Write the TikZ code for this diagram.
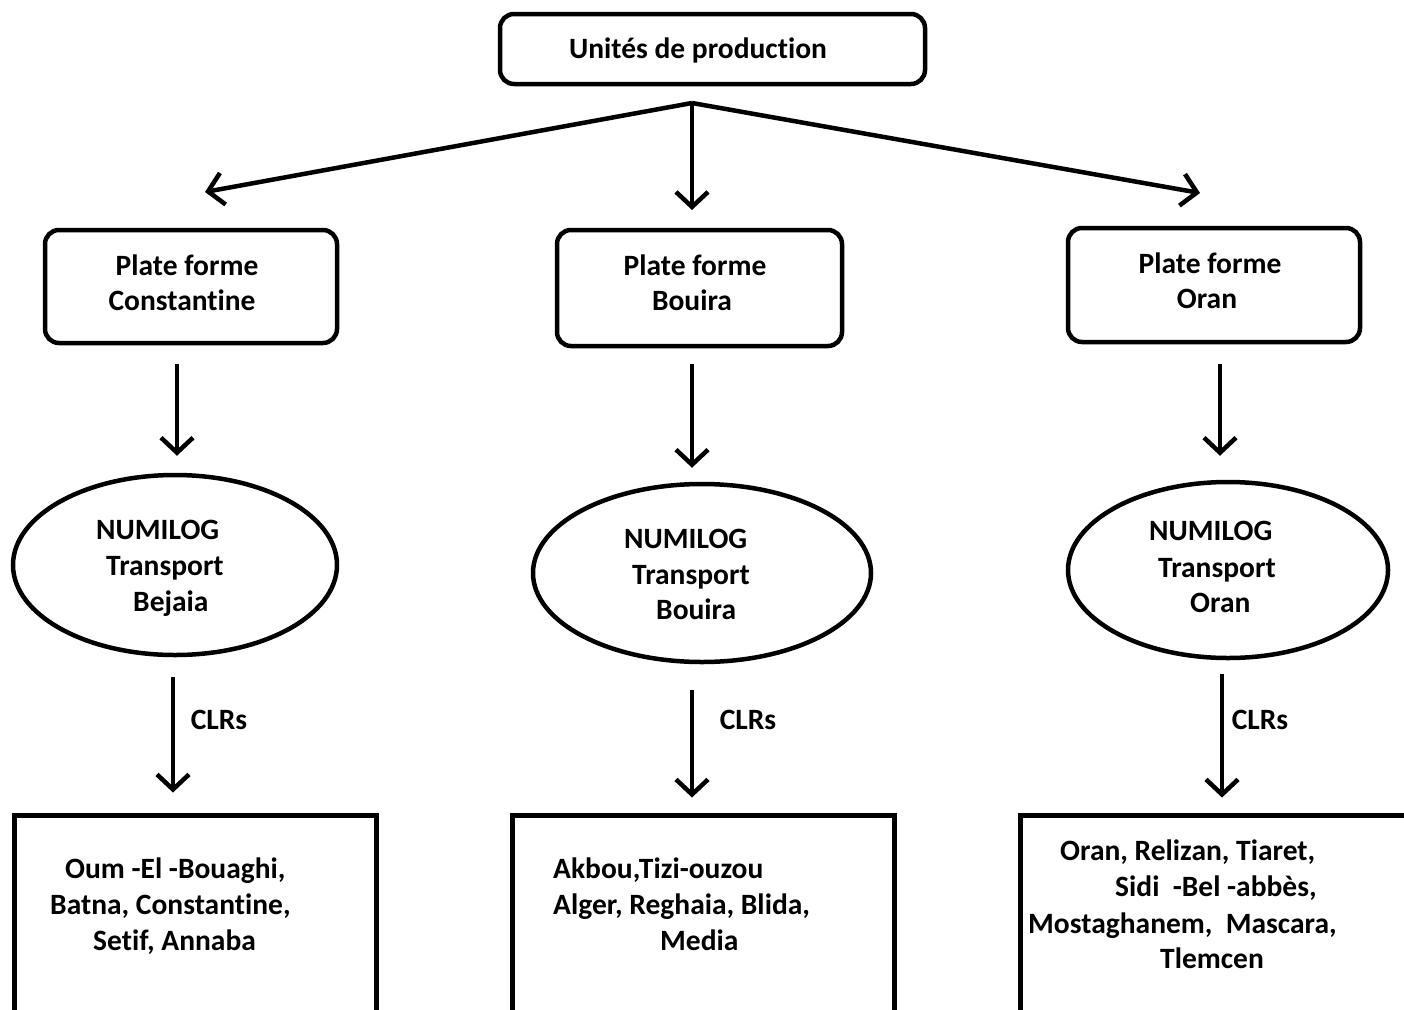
\documentclass[tikz,border=0pt]{standalone}
\usepackage{fontspec}
\setmainfont{Carlito}[Ligatures={NoCommon}]
\usetikzlibrary{arrows.meta,shapes.geometric}
\begin{document}
\begin{tikzpicture}[x=1pt,y=-1pt,
  txt/.style={font=\bfseries\fontsize{29.5}{36}\selectfont, inner sep=0pt},
  lw/.style={txt, anchor=base west},
  lc/.style={txt, anchor=base},
  rbox/.style={draw, line width=4.5pt, rounded corners=14pt},
  ebox/.style={draw, ellipse, line width=4.5pt, inner sep=0pt},
  sbox/.style={draw, rectangle, line width=5pt, inner sep=0pt},
  arr/.style={line width=4.5pt, -{Straight Barb[length=15pt,width=32pt]}}
]
\useasboundingbox (0,0) rectangle (1404,1009);
\clip (0,0) rectangle (1404,1009);

% boxes
\node[rbox, minimum width=425pt, minimum height=70pt] (top) at (712.5,49) {};
\node[rbox, minimum width=292pt, minimum height=113pt] (p1) at (191,286.5) {};
\node[rbox, minimum width=285pt, minimum height=116pt] (p2) at (699.5,288) {};
\node[rbox, minimum width=292pt, minimum height=114pt] (p3) at (1214,285) {};
\node[ebox, minimum width=324pt, minimum height=180pt] (e1) at (175,565) {};
\node[ebox, minimum width=338pt, minimum height=178pt] (e2) at (702,573) {};
\node[ebox, minimum width=320pt, minimum height=176pt] (e3) at (1228,570) {};
\node[sbox, minimum width=362pt, minimum height=240pt] (b1) at (195,935) {};
\node[sbox, minimum width=382pt, minimum height=240pt] (b2) at (703,935) {};
\node[sbox, minimum width=410pt, minimum height=240pt] (b3) at (1225,935) {};

% texts
\node[lc] (ttop) at (698,58) {Unités de production};
\node[lc] (t1a) at (187,275) {Plate forme};
\node[lc] (t1b) at (182,310) {Constantine};
\node[lc] (t2a) at (695,275) {Plate forme};
\node[lc] (t2b) at (692,310) {Bouira};
\node[lc] (t3a) at (1210,273) {Plate forme};
\node[lc] (t3b) at (1207,308) {Oran};

\node[lw] (n1a) at (96,539) {NUMILOG};
\node[lw] (n1b) at (106,575) {Transport};
\node[lw] (n1c) at (133,611) {Bejaia};
\node[lw] (n2a) at (624,548) {NUMILOG};
\node[lw] (n2b) at (632,584) {Transport};
\node[lw] (n2c) at (656,619) {Bouira};
\node[lw] (n3a) at (1149,540) {NUMILOG};
\node[lw] (n3b) at (1158,577) {Transport};
\node[lw] (n3c) at (1190,612) {Oran};

\node[lc] (c1) at (219,729) {CLRs};
\node[lc] (c2) at (748,729) {CLRs};
\node[lc] (c3) at (1260,729) {CLRs};

\node[lw] (l1a) at (65,878) {Oum -El -Bouaghi,};
\node[lw] (l1b) at (50,914) {Batna, Constantine,};
\node[lw] (l1c) at (93,950) {Setif, Annaba};
\node[lw] (l2a) at (553,878) {Akbou,Tizi-ouzou};
\node[lw] (l2b) at (553,914) {Alger, Reghaia, Blida,};
\node[lw] (l2c) at (660,950) {Media};
\node[lw] (l3a) at (1060,860) {Oran, Relizan, Tiaret,};
\node[lw] (l3b) at (1115,896) {Sidi\ \ -Bel -abbès,};
\node[lw] (l3c) at (1028,933) {Mostaghanem,\ \ Mascara,};
\node[lw] (l3d) at (1160,968) {Tlemcen};

% connectors
\coordinate (st) at (692,103);
\coordinate (tl) at (205,192);
\coordinate (tm) at (692,210);
\coordinate (tr) at (1200,193);
\draw[arr] (st) -- (tl);
\draw[arr] (st) -- (tm);
\draw[arr] (st) -- (tr);

\draw[arr, shorten <=18.5pt, shorten >=17pt] ([xshift=-14pt]p1.south) -- ([xshift=2pt]e1.north);
\draw[arr, shorten <=16pt, shorten >=14pt] ([xshift=-7.5pt]p2.south) -- ([xshift=-10pt]e2.north);
\draw[arr, shorten <=20pt, shorten >=24pt] ([xshift=6pt]p3.south) -- ([xshift=-8pt]e3.north);

\draw[arr, shorten <=20pt, shorten >=20pt] ([xshift=-2pt]e1.south) -- ([xshift=-22pt]b1.north);
\draw[arr, shorten <=26pt, shorten >=15pt] ([xshift=-10pt]e2.south) -- ([xshift=-11pt]b2.north);
\draw[arr, shorten <=14pt, shorten >=15pt] ([xshift=-6pt]e3.south) -- ([xshift=-3pt]b3.north);
\end{tikzpicture}
\end{document}
